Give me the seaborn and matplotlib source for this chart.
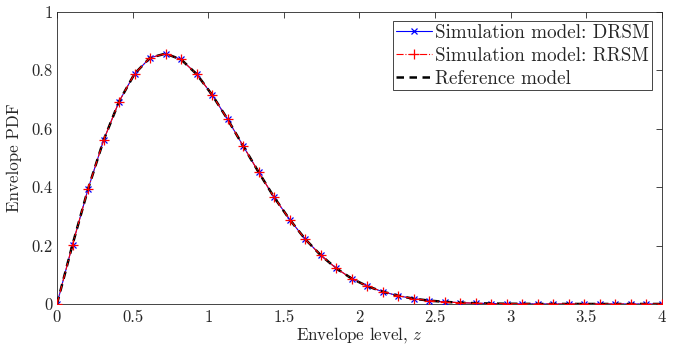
import numpy as np
import pandas as pd
import matplotlib
matplotlib.use("Agg")
import matplotlib.pyplot as plt
import seaborn as sns

# Envelope levels (40 equally spaced points from 0 to 4)
z_levels = [0.0, 0.1026, 0.2051, 0.3077, 0.4103, 0.5128, 0.6154, 0.7179, 0.8205, 0.9231,
            1.0256, 1.1282, 1.2308, 1.3333, 1.4359, 1.5385, 1.6410, 1.7436, 1.8462, 1.9487,
            2.0513, 2.1538, 2.2564, 2.3590, 2.4615, 2.5641, 2.6667, 2.7692, 2.8718, 2.9744,
            3.0769, 3.1795, 3.2821, 3.3846, 3.4872, 3.5897, 3.6923, 3.7949, 3.8974, 4.0]

pdf_drsm = [0.0, 0.203, 0.393, 0.560, 0.693, 0.788, 0.843, 0.857, 0.837, 0.787,
            0.716, 0.632, 0.541, 0.451, 0.365, 0.289, 0.222, 0.167, 0.122, 0.087,
            0.061, 0.042, 0.028, 0.018, 0.0115, 0.0072, 0.0044, 0.0026, 0.0015, 0.0009,
            0.0005, 0.0002, 0.0001, 0.0001, 0.0, 0.0, 0.0, 0.0, 0.0, 0.0]

pdf_rrsm = [0.0, 0.203, 0.393, 0.560, 0.693, 0.788, 0.843, 0.857, 0.837, 0.787,
            0.716, 0.632, 0.541, 0.451, 0.365, 0.289, 0.222, 0.167, 0.122, 0.087,
            0.061, 0.042, 0.028, 0.018, 0.0115, 0.0072, 0.0044, 0.0026, 0.0015, 0.0009,
            0.0005, 0.0002, 0.0001, 0.0001, 0.0, 0.0, 0.0, 0.0, 0.0, 0.0]

pdf_ref = [0.0, 0.203, 0.393, 0.560, 0.693, 0.788, 0.843, 0.857, 0.837, 0.787,
           0.716, 0.632, 0.541, 0.451, 0.365, 0.289, 0.222, 0.167, 0.122, 0.087,
           0.061, 0.042, 0.028, 0.018, 0.0115, 0.0072, 0.0044, 0.0026, 0.0015, 0.0009,
           0.0005, 0.0002, 0.0001, 0.0001, 0.0, 0.0, 0.0, 0.0, 0.0, 0.0]

x_ticks = [0, 0.5, 1, 1.5, 2, 2.5, 3, 3.5, 4]
x_tick_labels = ["0", "0.5", "1", "1.5", "2", "2.5", "3", "3.5", "4"]
y_ticks = [0, 0.2, 0.4, 0.6, 0.8, 1]
y_tick_labels = ["0", "0.2", "0.4", "0.6", "0.8", "1"]

sns.set_style("white")
plt.rcParams["font.family"] = ["serif"]
plt.rcParams["font.serif"] = ["cmr10", "DejaVu Serif"]
plt.rcParams["mathtext.fontset"] = "cm"
plt.rcParams["axes.formatter.use_mathtext"] = True

axcol = "#262626"
fig = plt.figure(figsize=(6.76, 3.49), dpi=100)
ax = fig.add_axes([0.0843, 0.129, 0.8950, 0.837])

df = pd.DataFrame({"z": z_levels, "drsm": pdf_drsm, "rrsm": pdf_rrsm, "ref": pdf_ref})


def draw(col, color, **style):
    before = set(ax.lines)
    sns.lineplot(data=df, x="z", y=col, ax=ax, color=color, legend=False)
    new = [l for l in ax.lines if l not in before and len(l.get_xdata()) > 0]
    line = new[0]
    line.set(**style)
    return line


l_drsm = draw("drsm", "#0000ff", linestyle="-", linewidth=0.8, marker="x",
              markersize=5, markeredgewidth=0.9, markeredgecolor="#0000ff", zorder=3)
l_rrsm = draw("rrsm", "#ff0000", linestyle="-.", linewidth=0.8, marker="+",
              markersize=7, markeredgewidth=0.9, markeredgecolor="#ff0000", zorder=3.5)
l_ref = draw("ref", "black", linestyle=(0, (3.0, 2.2)), linewidth=1.8, marker="",
             zorder=3.2)

ax.set_xlim(0, 4)
ax.set_ylim(0, 1)
ax.set_xticks(x_ticks)
ax.set_xticklabels(x_tick_labels)
ax.set_yticks(y_ticks)
ax.set_yticklabels(y_tick_labels)
ax.tick_params(direction="in", length=4, width=0.6, colors=axcol, labelsize=12,
               top=True, right=True)
ax.tick_params(axis="x", pad=4)
ax.tick_params(axis="y", pad=3)
for s in ax.spines.values():
    s.set_visible(True)
    s.set_color(axcol)
    s.set_linewidth(0.6)

ax.set_xlabel("Envelope level, $z$", fontsize=12.2, color=axcol, labelpad=0)
ax.set_ylabel("Envelope PDF", fontsize=12.2, color=axcol, labelpad=7)

leg = ax.legend(handles=[l_drsm, l_rrsm, l_ref],
                labels=["Simulation model: DRSM", "Simulation model: RRSM", "Reference model"],
                loc="upper right", fontsize=13.7, frameon=True, fancybox=False,
                numpoints=1, handlelength=1.9, handletextpad=0.15, borderpad=0.15,
                labelspacing=0.25, borderaxespad=0.5)
leg.get_frame().set_edgecolor(axcol)
leg.get_frame().set_linewidth(0.6)
leg.get_frame().set_alpha(1)

fig.savefig("out.png", dpi=100)
